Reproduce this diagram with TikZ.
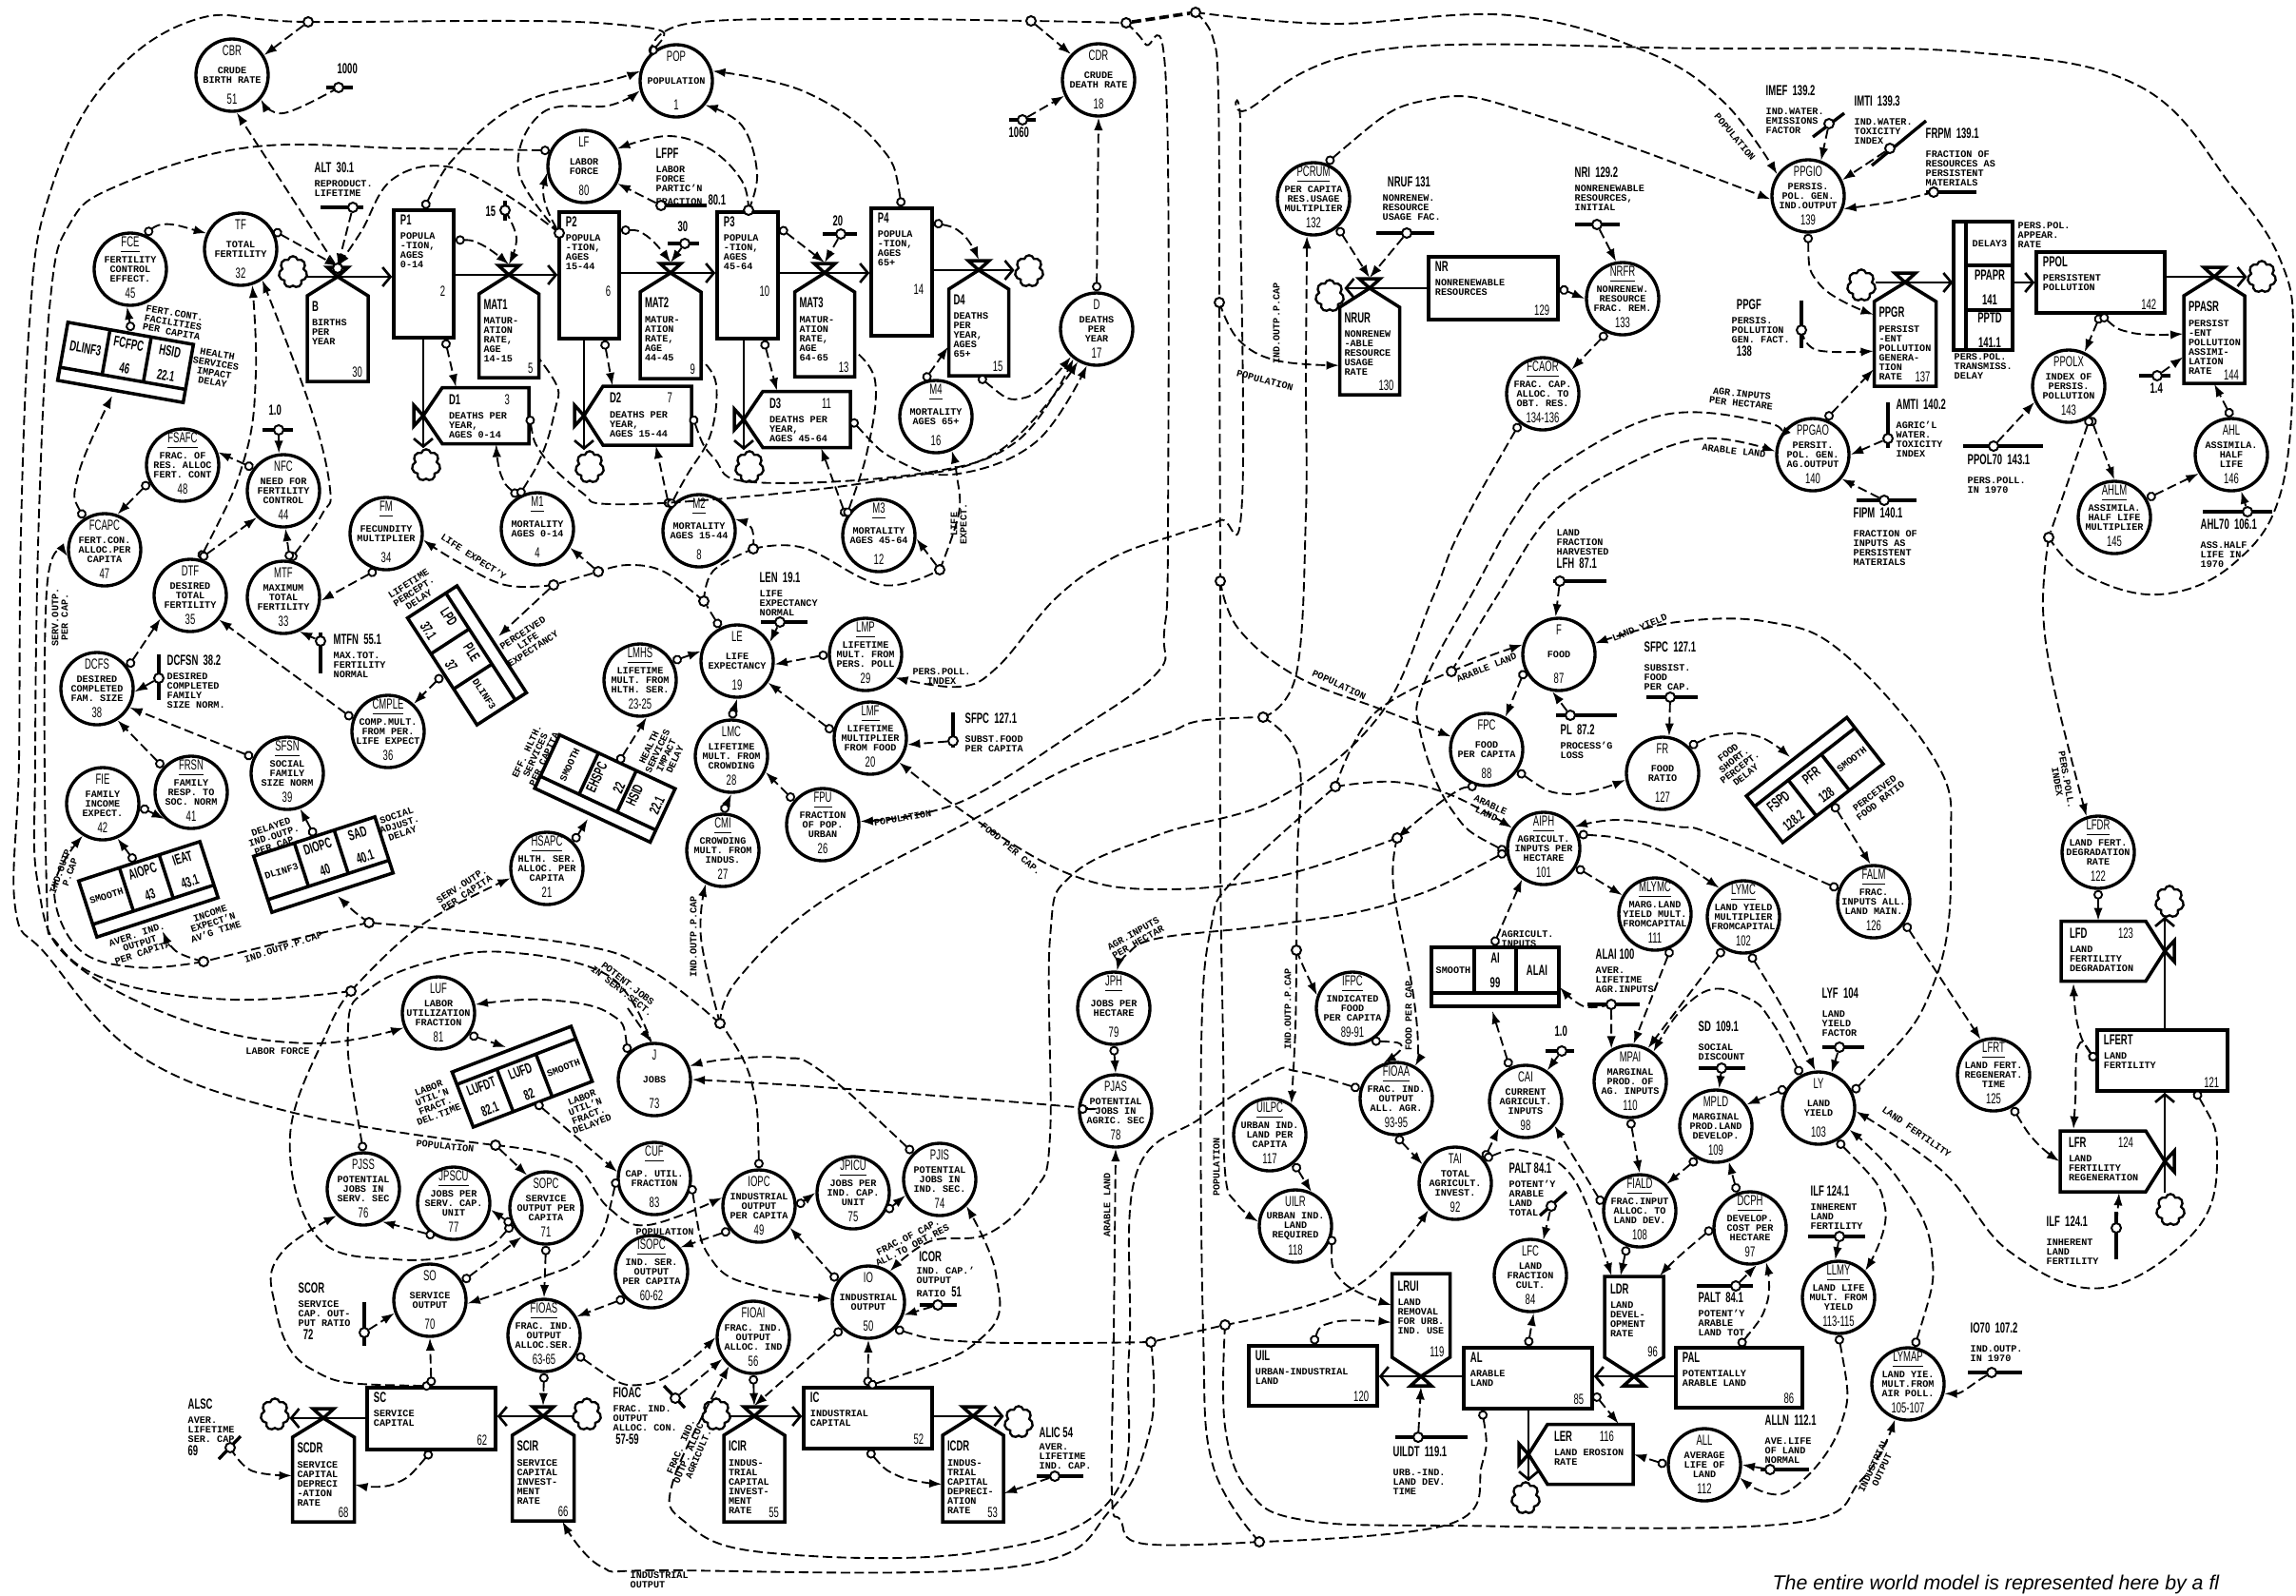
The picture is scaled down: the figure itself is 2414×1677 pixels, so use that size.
\documentclass[tikz,border=0pt]{standalone}
\usepackage{fontspec}
\setmainfont{Liberation Mono}
\newfontfamily\nmf[FakeStretch=0.62]{Liberation Sans}
\newfontfamily\capf{Liberation Sans}
\usetikzlibrary{arrows.meta,shapes.symbols,calc}
\pgfdeclarelayer{fg}\pgfsetlayers{main,fg}
\newcommand\nm[1]{{\nmf\fontsize{4.6}{4.6}\selectfont #1}}
\newcommand\lb{\fontsize{3.05}{3}\selectfont\bfseries}
\tikzset{
 auxc/.style={circle,draw,line width=1pt,minimum size=22.8pt,inner sep=0pt},
 auxn/.style={inner sep=0pt,align=center,font=\nmf\fontsize{4.6}{4.6}\selectfont},
 auxt/.style={inner sep=0pt,align=center,font=\lb},
 lev/.style={rectangle,draw,line width=1.05pt,inner sep=0pt},
 inv/.style={rectangle,inner sep=0pt},
 ht/.style={inner sep=0pt,align=left,font=\lb},
 num/.style={inner sep=0pt,font=\nmf\fontsize{4.6}{4.6}\selectfont},
 box/.style={line width=1.05pt,line join=miter},
 tap/.style={circle,draw,fill=white,line width=.6pt,minimum size=3pt,inner sep=0pt},
 bar/.style={line width=1pt},
 cld/.style={cloud,draw,cloud puffs=7,aspect=1,minimum width=9pt,minimum height=10pt,inner sep=0pt,line width=.7pt},
 dl/.style={dashed,line width=.56pt,dash pattern=on 3pt off 1.4pt},
 cn/.style={dl,{Circle[fill=white,length=3pt]}-{Latex[length=4pt,width=2.8pt]}},
 ar/.style={dl,-{Latex[length=4pt,width=2.8pt]}},
 tl/.style={dl,{Circle[fill=white,length=3pt]}-},
 flow/.style={line width=.8pt,-{Straight Barb[length=2.5pt,width=6pt]}},
 lab/.style={inner sep=0pt,align=left,anchor=north west,font=\lb},
 rlab/.style={inner sep=0pt,align=center,font=\lb},
}
\newcounter{tc}
\newcommand\vc[6]{\node[auxc,
 label={[auxn,name=#1n,yshift=7.6pt]center:{#4}},
 label={[auxt,name=#1t]center:{#5}},
 label={[auxn,name=#1m,yshift=-7.6pt]center:{#6}}] (#1) at (#2,#3) {};}
\newcommand\lev[9][-5]{\node[lev,minimum width={(#5-#3)*.3pt},minimum height={(#6-#4)*.3pt}] (#2) at ({(#3+#5)/2},{(#4+#6)/2}) {};
 \node[ht,anchor=north west] (#2x) at ($(#2.north west)+(8,6)$) {\nm{#7}\\[1.6pt]#8};
 \node[num,anchor=south east] (#2m) at ($(#2.south east)+(-10,#1)$) {#9};}
\newcommand\hsh[5]{\begin{scope}[shift={(#1,#2)},rotate=#3]
 \draw[box] ({-#4/2},20) -- (0,0) -- ({#4/2},20) -- ({#4/2},#5) -- ({-#4/2},#5) -- cycle;
 \draw[box] (-11,-10) -- (11,-10) -- (0,0) -- cycle;
 \end{scope}}
\newcommand\hU[8]{\hsh{#2}{#3}{0}{#4}{#5}\coordinate (#1v) at (#2,#3);\coordinate (#1t) at ({#2},{#3-11});
 \node[inv,minimum width={#4*.3pt},minimum height={#5*.3pt}] (#1) at ({#2},{#3+#5/2}) {};
 \node[ht,anchor=north west] (#1x) at ($(#1.north west)+(5,26)$) {\nm{#6}\\[1.6pt]#7};
 \node[num,anchor=south east] (#1m) at ($(#1.south east)+(-6,-4)$) {#8};}
\newcommand\hD[8]{\hsh{#2}{#3}{180}{#4}{#5}\coordinate (#1v) at (#2,#3);\coordinate (#1t) at ({#2},{#3+11});
 \node[inv,minimum width={#4*.3pt},minimum height={#5*.3pt}] (#1) at ({#2},{#3-#5/2}) {};
 \node[ht,anchor=north west] (#1x) at ($(#1.north west)+(6,8)$) {\nm{#6}\\[1.6pt]#7};
 \node[num,anchor=south east] (#1m) at ($(#1.south east)+(-6,-20)$) {#8};}
\newcommand\hL[8]{\hsh{#2}{#3}{90}{#4}{#5}\coordinate (#1v) at (#2,#3);\coordinate (#1t) at ({#2-11},{#3});
 \node[inv,minimum width={#5*.3pt},minimum height={#4*.3pt}] (#1) at ({#2+#5/2},{#3}) {};
 \node[ht,anchor=north west] (#1x) at ($(#1.north west)+(27,7)$) {\nm{#6}\\[1.6pt]#7};
 \node[num,anchor=north east] (#1m) at ($(#1.north east)+(-20,7)$) {#8};}
\newcommand\hR[8]{\hsh{#2}{#3}{-90}{#4}{#5}\coordinate (#1v) at (#2,#3);\coordinate (#1t) at ({#2+11},{#3});
 \node[inv,minimum width={#5*.3pt},minimum height={#4*.3pt}] (#1) at ({#2-#5/2},{#3}) {};
 \node[ht,anchor=north west] (#1x) at ($(#1.north west)+(9,7)$) {\nm{#6}\\[1.6pt]#7};
 \node[num,anchor=north east] (#1m) at ($(#1.north east)+(-33,7)$) {#8};}
\newcommand\cc[2]{\nm{#1}\\[3.5pt]\nm{#2}}
\newcommand\blk[9]{\begin{scope}[shift={(#2,#3)},rotate=#4]
 \draw[box] (-67,-31) rectangle (67,31);
 \draw[box] (-67,{#5*17}) -- (67,{#5*17});
 \draw[box] (-22,{-#5*31}) -- (-22,{#5*17});
 \draw[box] (22,{-#5*31}) -- (22,{#5*17});
 \node[rlab,rotate={#4+#9}] (#1a) at (-44,{-#5*7}) {#6};
 \node[rlab,rotate={#4+#9}] (#1b) at (0,{-#5*7}) {#7};
 \node[rlab,rotate={#4+#9}] (#1c) at (44,{-#5*7}) {#8};
 \end{scope}}
\newcommand\tapn[3]{\begin{pgfonlayer}{fg}\node[tap] (#1) at (#2,#3) {};\end{pgfonlayer}}
\newcommand\chb[5]{\draw[bar] (#4,#3) -- (#5,#3);\tapn{#1}{#2}{#3}}
\newcommand\cvb[5]{\draw[bar] (#2,#4) -- (#2,#5);\tapn{#1}{#2}{#3}}
\newcommand\csl[7]{\draw[bar] (#4,#5) -- (#6,#7);\tapn{#1}{#2}{#3}}
\newcommand\tx[3]{\stepcounter{tc}\node[lab] (tx\arabic{tc}) at (#1,#2) {#3};}
\newcommand\trx[4]{\stepcounter{tc}\node[rlab,rotate=#3] (tx\arabic{tc}) at (#1,#2) {#4};}
\newcommand\cv[2]{\draw[#1] plot[smooth,tension=.65] coordinates {#2};}
\newcommand\un[1]{\underline{#1}}
\begin{document}
\begin{tikzpicture}[x=0.3pt,y=-0.3pt]
\useasboundingbox (0,0) rectangle (2414,1677);
% ---------- circles
\vc{CBR}{244}{79}{CBR}{CRUDE\\BIRTH RATE}{51}
\vc{TF}{253}{262}{TF}{TOTAL\\FERTILITY}{32}
\vc{FCE}{137}{283}{\un{FCE}}{FERTILITY\\CONTROL\\EFFECT.}{45}
\vc{POP}{711}{85}{POP}{POPULATION}{1}
\vc{CDR}{1155}{84}{CDR}{CRUDE\\DEATH RATE}{18}
\vc{D}{1153}{346}{D}{DEATHS\\PER\\YEAR}{17}
\vc{LF}{614}{175}{LF}{LABOR\\FORCE}{80}
\vc{FCAPC}{110}{578}{FCAPC}{FERT.CON.\\ALLOC.PER\\CAPITA}{47}
\vc{FSAFC}{192}{489}{\un{FSAFC}}{FRAC. OF\\RES. ALLOC\\FERT. CONT}{48}
\vc{NFC}{298}{516}{NFC}{NEED FOR\\FERTILITY\\CONTROL}{44}
\vc{FM}{406}{561}{\un{FM}}{FECUNDITY\\MULTIPLIER}{34}
\vc{M1}{565}{556}{\un{M1}}{MORTALITY\\AGES 0-14}{4}
\vc{M2}{735}{558}{\un{M2}}{MORTALITY\\AGES 15-44}{8}
\vc{M3}{924}{563}{\un{M3}}{MORTALITY\\AGES 45-64}{12}
\vc{M4}{984}{438}{\un{M4}}{MORTALITY\\AGES 65+}{16}
\vc{DTF}{200}{626}{DTF}{DESIRED\\TOTAL\\FERTILITY}{35}
\vc{MTF}{298}{628}{MTF}{MAXIMUM\\TOTAL\\FERTILITY}{33}
\vc{DCFS}{102}{724}{DCFS}{DESIRED\\COMPLETED\\FAM. SIZE}{38}
\vc{FIE}{108}{845}{FIE}{FAMILY\\INCOME\\EXPECT.}{42}
\vc{FRSN}{201}{833}{\un{FRSN}}{FAMILY\\RESP. TO\\SOC. NORM}{41}
\vc{SFSN}{302}{813}{\un{SFSN}}{SOCIAL\\FAMILY\\SIZE NORM}{39}
\vc{CMPLE}{408}{769}{\un{CMPLE}}{COMP.MULT.\\FROM PER.\\LIFE EXPECT}{36}
\vc{HSAPC}{575}{913}{\un{HSAPC}}{HLTH. SER.\\ALLOC. PER\\CAPITA}{21}
\vc{LE}{775}{695}{LE}{LIFE\\EXPECTANCY}{19}
\vc{LMHS}{673}{715}{\un{LMHS}}{LIFETIME\\MULT. FROM\\HLTH. SER.}{23-25}
\vc{LMP}{910}{688}{\un{LMP}}{LIFETIME\\MULT. FROM\\PERS. POLL}{29}
\vc{LMF}{915}{776}{\un{LMF}}{LIFETIME\\MULTIPLIER\\FROM FOOD}{20}
\vc{LMC}{769}{795}{LMC}{LIFETIME\\MULT. FROM\\CROWDING}{28}
\vc{CMI}{760}{894}{\un{CMI}}{CROWDING\\MULT. FROM\\INDUS.}{27}
\vc{FPU}{865}{867}{\un{FPU}}{FRACTION\\OF POP.\\URBAN}{26}
\vc{JPH}{1171}{1060}{\un{JPH}}{JOBS PER\\HECTARE}{79}
\vc{LUF}{461}{1065}{LUF}{LABOR\\UTILIZATION\\FRACTION}{81}
\vc{J}{688}{1135}{J}{JOBS}{73}
\vc{PJSS}{382}{1250}{PJSS}{POTENTIAL\\JOBS IN\\SERV. SEC}{76}
\vc{JPSCU}{477}{1265}{\un{JPSCU}}{JOBS PER\\SERV. CAP.\\UNIT}{77}
\vc{SOPC}{574}{1270}{SOPC}{SERVICE\\OUTPUT PER\\CAPITA}{71}
\vc{CUF}{688}{1239}{\un{CUF}}{CAP. UTIL.\\FRACTION}{83}
\vc{SO}{452}{1367}{SO}{SERVICE\\OUTPUT}{70}
\vc{ISOPC}{685}{1337}{\un{ISOPC}}{IND. SER.\\OUTPUT\\PER CAPITA}{60-62}
\vc{FIOAS}{572}{1404}{\un{FIOAS}}{FRAC. IND.\\OUTPUT\\ALLOC.SER.}{63-65}
\vc{IOPC}{798}{1268}{IOPC}{INDUSTRIAL\\OUTPUT\\PER CAPITA}{49}
\vc{JPICU}{897}{1254}{\un{JPICU}}{JOBS PER\\IND. CAP.\\UNIT}{75}
\vc{PJIS}{988}{1240}{PJIS}{POTENTIAL\\JOBS IN\\IND. SEC.}{74}
\vc{IO}{913}{1369}{IO}{INDUSTRIAL\\OUTPUT}{50}
\vc{FIOAI}{792}{1406}{FIOAI}{FRAC. IND.\\OUTPUT\\ALLOC. IND}{56}
\vc{PJAS}{1173}{1168}{PJAS}{POTENTIAL\\JOBS IN\\AGRIC. SEC}{78}
\vc{UILPC}{1335}{1193}{\un{UILPC}}{URBAN IND.\\LAND PER\\CAPITA}{117}
\vc{UILR}{1362}{1289}{UILR}{URBAN IND.\\LAND\\REQUIRED}{118}
\vc{FIOAA}{1468}{1155}{\un{FIOAA}}{FRAC. IND.\\OUTPUT\\ALL. AGR.}{93-95}
\vc{CAI}{1604}{1158}{CAI}{CURRENT\\AGRICULT.\\INPUTS}{98}
\vc{MPAI}{1714}{1137}{MPAI}{MARGINAL\\PROD. OF\\AG. INPUTS}{110}
\vc{MPLD}{1804}{1184}{MPLD}{MARGINAL\\PROD.LAND\\DEVELOP.}{109}
\vc{TAI}{1530}{1244}{TAI}{TOTAL\\AGRICULT.\\INVEST.}{92}
\vc{FIALD}{1724}{1273}{\un{FIALD}}{FRAC.INPUT\\ALLOC. TO\\LAND DEV.}{108}
\vc{DCPH}{1840}{1291}{\un{DCPH}}{DEVELOP.\\COST PER\\HECTARE}{97}
\vc{LFC}{1609}{1341}{LFC}{LAND\\FRACTION\\CULT.}{84}
\vc{LY}{1912}{1165}{LY}{LAND\\YIELD}{103}
\vc{ALL}{1792}{1540}{ALL}{AVERAGE\\LIFE OF\\LAND}{112}
\vc{LLMY}{1933}{1364}{\un{LLMY}}{LAND LIFE\\MULT. FROM\\YIELD}{113-115}
\vc{LYMAP}{2006}{1455}{\un{LYMAP}}{LAND YIE.\\MULT.FROM\\AIR POLL.}{105-107}
\vc{LFRT}{2096}{1130}{\un{LFRT}}{LAND FERT.\\REGENERAT.\\TIME}{125}
\vc{LFDR}{2206}{896}{\un{LFDR}}{LAND FERT.\\DEGRADATION\\RATE}{122}
\vc{FALM}{1970}{948}{\un{FALM}}{FRAC.\\INPUTS ALL.\\LAND MAIN.}{126}
\vc{LYMC}{1833}{964}{\un{LYMC}}{LAND YIELD\\MULTIPLIER\\FROMCAPITAL}{102}
\vc{F}{1639}{688}{F}{FOOD}{87}
\vc{FPC}{1563}{788}{FPC}{FOOD\\PER CAPITA}{88}
\vc{FR}{1748}{813}{FR}{FOOD\\RATIO}{127}
\vc{AIPH}{1623}{892}{\un{AIPH}}{AGRICULT.\\INPUTS PER\\HECTARE}{101}
\vc{MLYMC}{1740}{961}{\un{MLYMC}}{MARG.LAND\\YIELD MULT.\\FROMCAPITAL}{111}
\vc{IFPC}{1422}{1060}{\un{IFPC}}{INDICATED\\FOOD\\PER CAPITA}{89-91}
\vc{PCRUM}{1381}{209}{\un{PCRUM}}{PER CAPITA\\RES.USAGE\\MULTIPLIER}{132}
\vc{NRFR}{1706}{314}{\un{NRFR}}{NONRENEW.\\RESOURCE\\FRAC. REM.}{133}
\vc{FCAOR}{1622}{414}{\un{FCAOR}}{FRAC. CAP.\\ALLOC. TO\\OBT. RES.}{134-136}
\vc{PPGIO}{1901}{206}{PPGIO}{PERSIS.\\POL. GEN.\\IND.OUTPUT}{139}
\vc{PPGAO}{1906}{478}{PPGAO}{PERSIT.\\POL. GEN.\\AG.OUTPUT}{140}
\vc{PPOLX}{2175}{406}{PPOLX}{INDEX OF\\PERSIS.\\POLLUTION}{143}
\vc{AHLM}{2223}{544}{\un{AHLM}}{ASSIMILA.\\HALF LIFE\\MULTIPLIER}{145}
\vc{AHL}{2346}{478}{AHL}{ASSIMILA.\\HALF\\LIFE}{146}
% ---------- levels
\lev[-45]{P1}{414}{221}{477}{355}{P1}{POPULA\\-TION,\\AGES\\0-14}{2}
\lev[-45]{P2}{588}{223}{651}{356}{P2}{POPULA\\-TION,\\AGES\\15-44}{6}
\lev[-45]{P3}{754}{223}{818}{356}{P3}{POPULA\\-TION,\\AGES\\45-64}{10}
\lev[-45]{P4}{916}{219}{980}{353}{P4}{POPULA\\-TION,\\AGES\\65+}{14}
\lev{SC}{386}{1459}{521}{1524}{SC}{SERVICE\\CAPITAL}{62}
\lev{IC}{845}{1459}{980}{1523}{IC}{INDUSTRIAL\\CAPITAL}{52}
\lev{UIL}{1313}{1415}{1448}{1478}{UIL}{URBAN-INDUSTRIAL\\LAND}{120}
\lev{AL}{1539}{1417}{1674}{1481}{AL}{ARABLE\\LAND}{85}
\lev{PAL}{1762}{1417}{1895}{1480}{PAL}{POTENTIALLY\\ARABLE LAND}{86}
\lev{LFERT}{2205}{1083}{2342}{1147}{LFERT}{LAND\\FERTILITY}{121}
\lev{NR}{1502}{270}{1638}{336}{NR}{NONRENEWABLE\\RESOURCES}{129}
\lev{PPOL}{2141}{265}{2276}{329}{PPOL}{PERSISTENT\\POLLUTION}{142}
% ---------- rates
\hU{B}{355}{291}{64}{110}{B}{BIRTHS\\PER\\YEAR}{30}
\hU{MAT1}{535}{289}{63}{108}{MAT1}{MATUR-\\ATION\\RATE,\\AGE\\14-15}{5}
\hU{MAT2}{705}{287}{64}{111}{MAT2}{MATUR-\\ATION\\RATE,\\AGE\\44-45}{9}
\hU{MAT3}{867}{287}{63}{109}{MAT3}{MATUR-\\ATION\\RATE,\\AGE\\64-65}{13}
\hU{Dfour}{1029}{284}{63}{111}{D4}{DEATHS\\PER\\YEAR,\\AGES\\65+}{15}
\hL{Done}{445}{437}{59}{111}{D1}{DEATHS PER\\YEAR,\\AGES 0-14}{3}
\hL{Dtwo}{614}{437}{62}{113}{D2}{DEATHS PER\\YEAR,\\AGES 15-44}{7}
\hL{Dthree}{782}{441}{59}{112}{D3}{DEATHS PER\\YEAR,\\AGES 45-64}{11}
\hU{SCDR}{340}{1491}{65}{109}{SCDR}{SERVICE\\CAPITAL\\DEPRECI\\-ATION\\RATE}{68}
\hU{SCIR}{571}{1489}{65}{110}{SCIR}{SERVICE\\CAPITAL\\INVEST-\\MENT\\RATE}{66}
\hU{ICIR}{793}{1489}{64}{111}{ICIR}{INDUS-\\TRIAL\\CAPITAL\\INVEST-\\MENT\\RATE}{55}
\hU{ICDR}{1023}{1489}{64}{111}{ICDR}{INDUS-\\TRIAL\\CAPITAL\\DEPRECI-\\ATION\\RATE}{53}
\hU{NRUR}{1440}{303}{63}{112}{NRUR}{NONRENEW\\-ABLE\\RESOURCE\\USAGE\\RATE}{130}
\hU{PPGR}{2003}{297}{65}{109}{PPGR}{PERSIST\\-ENT\\POLLUTION\\GENERA-\\TION\\RATE}{137}
\hU{PPASR}{2328}{291}{64}{112}{PPASR}{PERSIST\\-ENT\\POLLUTION\\ASSIMI-\\LATION\\RATE}{144}
\hD{LRUI}{1494}{1447}{61}{108}{LRUI}{LAND\\REMOVAL\\FOR URB.\\IND. USE}{119}
\hD{LDR}{1718}{1447}{62}{105}{LDR}{LAND\\DEVEL-\\OPMENT\\RATE}{96}
\hL{LER}{1607}{1529}{63}{110}{LER}{LAND EROSION\\RATE}{116}
\hR{LFR}{2276}{1221}{64}{110}{LFR}{LAND\\FERTILITY\\REGENERATION}{124}
\hR{LFD}{2276}{1000}{63}{109}{LFD}{LAND\\FERTILITY\\DEGRADATION}{123}
% ---------- delay tables
\blk{HS}{132}{381}{-10}{1}{\nm{DLINF3}}{\cc{FCFPC}{46}}{\cc{HSID}{22.1}}{0}
\blk{PB}{491}{689}{-57}{-1}{\cc{LPD}{37.1}}{\cc{PLE}{37}}{DLINF3}{0}
\blk{AB}{156}{935}{18}{1}{SMOOTH}{\cc{AIOPC}{43}}{\cc{IEAT}{43.1}}{0}
\blk{DB}{340}{909}{18}{1}{DLINF3}{\cc{DIOPC}{40}}{\cc{SAD}{40.1}}{0}
\blk{EB}{636}{829}{-25}{1}{SMOOTH}{\cc{EHSPC}{22}}{\cc{HSID}{22.1}}{90}
\blk{UB}{549}{1132}{21}{-1}{\cc{LUFDT}{82.1}}{\cc{LUFD}{82}}{SMOOTH}{0}
\blk{IB}{1572}{1027}{0}{1}{SMOOTH}{\cc{AI}{99}}{\nm{ALAI}}{0}
\blk{FB}{1908}{820}{38}{-1}{\cc{FSPD}{128.2}}{\cc{PFR}{128}}{SMOOTH}{0}
\node[inv,minimum width=18.6pt,minimum height=40.5pt] (PPDL) at (2085,300.5) {};
\draw[box] (2054,233) rectangle (2116,368);
\draw[box] (2067,233) -- (2067,368) (2067,279) -- (2116,279) (2067,326) -- (2116,326);
\node[rlab] (PPDLa) at (2092,256) {DELAY3};
\node[rlab] (PPDLb) at (2092,302) {\cc{PPAPR}{141}};
\node[rlab] (PPDLc) at (2092,347) {\cc{PPTD}{141.1}};
% ---------- clouds
\node[cld] (cB) at (308,286) {};
\node[cld] (cD1) at (448,489) {};
\node[cld] (cD2) at (620,491) {};
\node[cld] (cD3) at (788,491) {};
\node[cld] (cD4) at (1082,285) {};
\node[cld] (cSDR) at (289,1487) {};
\node[cld] (cSIR) at (617,1487) {};
\node[cld] (cICI) at (753,1487) {};
\node[cld] (cICD) at (1071,1495) {};
\node[cld] (cNR) at (1398,311) {};
\node[cld] (cPG) at (1957,300) {};
\node[cld] (cPA) at (2378,291) {};
\node[cld] (cLER) at (1604,1575) {};
\node[cld] (cLFR) at (2282,1272) {};
\node[cld] (cLFD) at (2281,948) {};
% ---------- flows
\draw[flow] (cB.east|-Bv) -- (P1.west|-Bv);
\draw[flow] (P1.east|-MAT1v) -- (P2.west|-MAT1v);
\draw[flow] (P2.east|-MAT2v) -- (P3.west|-MAT2v);
\draw[flow] (P3.east|-MAT3v) -- (P4.west|-MAT3v);
\draw[flow] (P4.east|-Dfourv) -- (cD4.west|-Dfourv);
\draw[flow] (Donev|-P1.south) -- (Donev|-cD1.north);
\draw[flow] (Dtwov|-P2.south) -- (Dtwov|-cD2.north);
\draw[flow] (Dthreev|-P3.south) -- (Dthreev|-cD3.north);
\draw[flow] (cSIR.west|-SCIRv) -- (SC.east|-SCIRv);
\draw[flow] (SC.west|-SCDRv) -- (cSDR.east|-SCDRv);
\draw[flow] (cICI.east|-ICIRv) -- (IC.west|-ICIRv);
\draw[flow] (IC.east|-ICDRv) -- (cICD.west|-ICDRv);
\draw[flow] (NR.west|-NRURv) -- (cNR.east|-NRURv);
\draw[flow] (cPG.east|-PPGRv) -- (PPDL.west|-PPGRv);
\draw[flow] (PPDL.east|-PPGRv) -- (PPOL.west|-PPGRv);
\draw[flow] (PPOL.east|-PPASRv) -- (cPA.west|-PPASRv);
\draw[flow] (AL.west|-LRUIv) -- (UIL.east|-LRUIv);
\draw[flow] (PAL.west|-LDRv) -- (AL.east|-LDRv);
\draw[flow] (LERv|-AL.south) -- (LERv|-cLER.north);
\draw[flow] (LFDv|-LFERT.north) -- (LFDv|-cLFD.south);
\draw[flow] (LFRv|-cLFR.north) -- (LFRv|-LFERT.south);
% ---------- constants
\chb{kB}{356}{92}{343}{371}
\chb{kALT}{371}{218}{337}{382}
\cvb{k15}{531}{221}{211}{232}
\chb{k30}{720}{256}{702}{735}
\chb{k20}{884}{246}{865}{901}
\chb{kLFPF}{695}{216}{692}{743}
\chb{k1060}{1075}{126}{1061}{1089}
\chb{kOne}{293}{452}{276}{308}
\cvb{kDCFSN}{167}{713}{688}{736}
\cvb{kMTFN}{337}{674}{665}{708}
\chb{kLEN}{820}{654}{800}{849}
\cvb{kSFPC}{1002}{779}{749}{786}
\csl{kALSC}{242}{1522}{230}{1534}{253}{1510}
\cvb{kSCOR}{383}{1401}{1369}{1415}
\csl{kFIOAC}{710}{1470}{698}{1457}{720}{1480}
\chb{kALIC}{1109}{1552}{1090}{1139}
\chb{kICOR}{986}{1372}{967}{1006}
\chb{kUILDT}{1491}{1511}{1467}{1543}
\csl{kPALTa}{1631}{1268}{1619}{1278}{1647}{1253}
\chb{kPALTb}{1825}{1352}{1784}{1843}
\chb{kCAI}{1642}{1105}{1625}{1655}
\chb{kSD}{1810}{1123}{1786}{1835}
\chb{kALLN}{1861}{1545}{1851}{1902}
\chb{kILFa}{1934}{1300}{1901}{1961}
\cvb{kILFb}{2225}{1291}{1274}{1324}
\chb{kLYF}{1934}{1101}{1916}{1960}
\chb{kIO}{2094}{1443}{2069}{2126}
\chb{kALAI}{1694}{1056}{1669}{1724}
\chb{kLFH}{1640}{611}{1633}{1689}
\chb{kPL}{1651}{752}{1636}{1700}
\chb{kSFPCb}{1756}{733}{1731}{1785}
\chb{kNRUF}{1479}{245}{1447}{1508}
\chb{kNRI}{1679}{236}{1656}{1703}
\csl{kIMEF}{1923}{130}{1906}{144}{1939}{119}
\csl{kIMTI}{1987}{156}{1968}{174}{2025}{127}
\chb{kFRPM}{2033}{202}{2025}{2078}
\cvb{kPPGF}{1894}{347}{316}{366}
\cvb{kAMTI}{1985}{461}{423}{471}
\chb{kFIPM}{1981}{526}{1952}{2015}
\chb{kPPOL}{2096}{469}{2064}{2148}
\chb{kAHL}{2363}{538}{2316}{2389}
\chb{kPP}{2268}{395}{2249}{2282}
% ---------- junctions
\tapn{jT1}{324}{23}\tapn{jT2}{1084}{22}\tapn{jT3}{1184}{24}\tapn{jT4}{1257}{13}
\tapn{jBt}{355}{282}\tapn{jP2}{588}{245}\tapn{jP3}{787}{221}
\tapn{jR1}{1282}{318}\tapn{jR2}{1283}{611}\tapn{jPS}{521}{1204}
\tapn{jIO1}{214}{1011}\tapn{jIO2}{388}{970}\tapn{jIO3}{757}{1076}
\tapn{jUP}{1328}{754}\tapn{jIF}{1363}{999}\tapn{jSP}{369}{1042}
\tapn{jPX}{2154}{565}\tapn{jBig}{1324}{1621}\tapn{jAr1}{1404}{827}\tapn{jAr2}{1526}{706}
\tapn{jI1}{1210}{1411}\tapn{jI2}{1288}{1393}\tapn{jLE}{740}{632}\tapn{jLa}{629}{601}
\tapn{jLb}{792}{577}\tapn{jLc}{988}{599}\tapn{jLd}{582}{615}\tapn{jFP}{1469}{881}
% free ends on delay tables
\coordinate (tHS) at (138,348);\coordinate (aHS) at (118,416);
\coordinate (tPB) at (465,710);\coordinate (aPB) at (524,669);
\coordinate (tAB) at (142,906);\coordinate (aAB) at (171,979);
\coordinate (tDB) at (331,879);\coordinate (aDB) at (355,942);
\coordinate (tEB) at (650,802);\coordinate (aEB) at (618,861);
\coordinate (tUB) at (563,1159);\coordinate (aUB) at (532,1101);
\coordinate (tIB) at (1570,994);\coordinate (aIBa) at (1569,1063);\coordinate (aIBb) at (1640,1038);
\coordinate (tFB) at (1927,845);\coordinate (aFB) at (1882,796);
\coordinate (aLFDb) at (2180,1034);\coordinate (aLFRt) at (2180,1187);
\coordinate (tLFB) at (2308,1147);\coordinate (aLFRb) at (2228,1254);
% ---------- population sector connectors
\draw[ar] (jT1) -- (CBR.32);
\cv{ar}{(kB) (298,119) (CBR.-40)}
\draw[cn] (FCE.67) to[out=40,in=165] (TF.155);
\draw[cn] (TF.30) -- (Bt);
\draw[ar] (jBt) -- (CBR.-83);
\draw[ar] (kALT) -- (Bt);
\cv{ar}{(jP2) (531,204) (469,175) (412,189) (380,243) (Bt)}
\cv{cn}{(P1.north) (486,157) (551,107) (640,85) (POP.165)}
\cv{ar}{(jP2) (545,179) (571,118) (640,111) (POP.195)}
\draw[ar] (jP2) to[out=120,in=-105] (LF.190);
\cv{ar}{(jP3) (796,182) (780,132) (POP.-40)}
\cv{ar}{(jP3) (780,190) (747,157) (702,143) (LF.28)}
\cv{cn}{(P4.north) (922,150) (845,96) (POP.15)}
\draw[ar] (kLFPF) -- (LF.-27);
\cv{cn}{(P1.47) (506,257) (MAT1t)}
\cv{ar}{(k15) (543,250) (MAT1t)}
\cv{cn}{(P2.55) (680,248) (MAT2t)}
\draw[ar] (k30) -- (MAT2t);
\draw[cn] (P3.56) -- (MAT3t);
\draw[ar] (k20) -- (MAT3t);
\cv{cn}{(P4.57) (1012,246) (Dfourt)}
\draw[cn] (P1.-72) -- (Done.125);
\draw[cn] (P2.-77) -- (Dtwo.130);
\draw[cn] (P3.-76) -- (Dthree.125);
\cv{cn}{(M1.120) (527,500) (Done.-55)}
\cv{tl}{(M1.120) (571,475) (584,429) (586,407) (MAT1.-47)}
\draw[cn] (M2.142) -- (Dtwo.-59);
\cv{tl}{(M2.142) (722,500) (747,457) (753,404) (MAT2.-48)}
\draw[cn] (M3.150) -- (Dthree.-50);
\cv{tl}{(M3.150) (914,464) (920,400) (MAT3.-41)}
\draw[cn] (M4.108) -- (Dfour.218);
\cv{cn}{(Done.0) (571,479) (612,518) (641,530) (763,524) (927,505) (1049,475) (D.240)}
\cv{cn}{(Dtwo.0) (751,482) (792,507) (967,498) (1069,464) (D.232)}
\cv{cn}{(Dthree.0) (947,486) (1008,498) (1090,464) (D.255)}
\cv{cn}{(Dfour.-90) (1078,418) (D.227)}
\draw[cn] (D.90) -- (CDR.-90);
\draw[ar] (k1060) -- (CDR.205);
\draw[ar] (jT2) -- (CDR.137);
% main population trunks
\cv{tl}{(POP.134) (641,25) (jT1) (204,21) (106,93) (49,214) (31,339) (22,560) (20,800) (16,954) (49,1004) (150,1112) (313,1171) (jPS)}
\cv{dl}{(POP.134) (722,25) (900,20) (jT2) (jT3)}
\draw[dl,line width=1.1pt] (jT3) -- (jT4);
\cv{ar}{(jPS) (599,1221) (640,1270) (681,1288) (IOPC.167)}
\draw[ar] (jPS) -- (SOPC.120);
\cv{cn}{(LF.155) (430,156) (261,155) (122,196) (73,236) (53,314) (41,540) (37,800) (40,930) (75,1010) (200,1075) (327,1097) (LUF.203)}
\cv{ar}{(jT4) (1400,25) (1587,16) (1730,54) (1812,107) (PPGIO.145)}
\cv{dl}{(jT4) (1275,39) (1281,100) (jR1)}
\draw[dl] (jR1) -- (jR2);
\cv{ar}{(jR2) (1283,900) (1286,1100) (1288,1232) (1300,1265) (UILR.173)}
\cv{ar}{(jR1) (1302,357) (1342,379) (NRUR.218)}
\cv{ar}{(jR2) (1302,661) (1363,711) (1450,745) (FPC.160)}
\cv{ar}{(jT3) (1204,46) (1226,89) (1228,560) (1224,665) (1216,708) (1131,769) (1008,844) (FPU.5)}
% fertility
\cv{cn}{(DTF.75) (257,482) (269,393) (TF.-72)}
\cv{cn}{(MTF.80) (339,540) (347,514) (327,430) (TF.-55)}
\draw[cn] (DTF.75) -- (NFC.225);
\draw[cn] (MTF.80) -- (NFC.-87);
\draw[cn] (FM.255) -- (MTF.-5);
\draw[ar] (kMTFN) -- (MTF.-65);
\draw[ar] (kOne) -- (NFC.97);
\draw[cn] (NFC.143) -- (FSAFC.20);
\draw[cn] (FSAFC.207) -- (FCAPC.70);
\cv{cn}{(FCAPC.123) (82,500) (aHS)}
\draw[cn] (tHS) -- (FCE.-95);
\draw[cn] (DCFS.35) -- (DTF.218);
\draw[ar] (kDCFSN) -- (DCFS.-5);
\draw[cn] (SFSN.155) -- (DCFS.-30);
\draw[cn] (FRSN.138) -- (DCFS.-57);
\draw[cn] (FIE.-5) -- (FRSN.225);
\draw[cn] (tAB) -- (FIE.-67);
\draw[cn] (tDB) -- (SFSN.-70);
\draw[cn] (CMPLE.160) -- (DTF.-40);
\draw[cn] (tPB) -- (CMPLE.47);
% life expectancy
\draw[tl] (LE.117) -- (jLE);
\cv{dl}{(jLE) (698,601) (660,594) (jLa)}
\cv{dl}{(jLE) (750,600) (jLb)}
\cv{dl}{(jLb) (845,576) (927,615) (jLc)}
\draw[ar] (jLa) -- (M1.-30);
\draw[dl] (jLa) -- (jLd);
\cv{ar}{(jLd) (531,615) (480,590) (FM.-10)}
\draw[ar] (jLd) -- (aPB);
\cv{ar}{(jLb) (790,555) (M2.18)}
\draw[ar] (jLc) -- (M3.-5);
\cv{ar}{(jLc) (1008,540) (1006,500) (M4.-65)}
\draw[cn] (LMHS.30) -- (LE.165);
\draw[cn] (LMP.180) -- (LE.-5);
\draw[cn] (LMF.170) -- (LE.-35);
\draw[cn] (LMC.90) -- (LE.-90);
\draw[cn] (CMI.90) -- (LMC.-90);
\draw[cn] (FPU.140) -- (LMC.-25);
\draw[ar] (kLEN) -- (LE.30);
\draw[ar] (kSFPC) -- (LMF.-10);
\draw[cn] (tEB) -- (LMHS.-80);
\draw[cn] (HSAPC.45) -- (aEB);
\cv{ar}{(jPX) (2192,604) (2270,625) (2348,593) (2399,514) (2411,356) (2399,277) (2348,198) (2250,91) (2074,55) (1800,51) (1453,52) (1314,114) (1304,143) (1306,525) (1283,547) (1240,561) (1171,586) (1110,629) (1049,701) (1008,722) (LMP.-38)}
% industrial output per capita trunks
\cv{tl}{(IOPC.north) (790,1137) (761,1080) (jIO3)}
\cv{dl}{(jIO3) (682,1019) (600,992) (jIO2)}
\cv{dl}{(jIO2) (320,985) (jIO1)}
\cv{ar}{(jIO1) (143,1017) (82,997) (57,933) (FIE.238)}
\cv{ar}{(jIO1) (185,1000) (aAB)}
\cv{ar}{(jIO2) (372,958) (aDB)}
\cv{ar}{(jIO3) (737,986) (CMI.243)}
\cv{dl}{(jIO3) (776,1029) (865,947) (1024,861) (1131,804) (1224,772) (1261,758) (jUP)}
\cv{ar}{(jUP) (1363,708) (1373,540) (1373,400) (PCRUM.-100)}
\cv{dl}{(jUP) (1365,797) (1364,900) (jIF)}
\cv{ar}{(jIF) (1372,1020) (IFPC.160)}
\cv{ar}{(jIF) (1362,1080) (UILPC.55)}
% service sector
\cv{tl}{(SOPC.206) (497,1316) (415,1324) (334,1301) (305,1194) (346,1080) (jSP)}
\cv{ar}{(jSP) (441,974) (HSAPC.195)}
\cv{ar}{(jSP) (245,1051) (122,1033) (61,993) (49,933) (49,622) (FCAPC.190)}
\cv{tl}{(PJSS.north) (366,1080) (388,1040) (449,1012) (531,1001) (640,1026) (J.95)}
\draw[ar] (660,1060) -- (J.95);
\cv{cn}{(J.135) (640,1065) (571,1051) (LUF.13)}
\cv{cn}{(PJIS.135) (863,1126) (822,1112) (761,1114) (J.21)}
\cv{cn}{(PJAS.177) (1108,1162) (865,1143) (J.0)}
\draw[cn] (LUF.-35) -- (aUB);
\draw[cn] (tUB) -- (CUF.170);
\cv{cn}{(SC.north) (325,1438) (287,1362) (297,1316) (PJSS.225)}
\draw[cn] (JPSCU.240) -- (PJSS.-60);
\draw[cn] (SOPC.206) -- (JPSCU.-10);
\draw[cn] (SO.30) -- (SOPC.230);
\cv{cn}{(CUF.180) (619,1316) (558,1347) (SO.-5)}
\cv{cn}{(CUF.-10) (750,1327) (802,1354) (IO.175)}
\draw[cn] (SOPC.-90) -- (FIOAS.90);
\draw[cn] (ISOPC.225) -- (FIOAS.30);
\draw[cn] (IOPC.220) -- (ISOPC.40);
\cv{cn}{(FIOAS.-30) (681,1455) (FIOAI.180)}
\draw[cn] (FIOAS.-90) -- (SCIRt);
\draw[cn] (SC.north) -- (SO.-90);
\draw[ar] (kSCOR) -- (SO.200);
\cv{cn}{(SC.south) (415,1560) (SCDR.-25)}
\cv{ar}{(kALSC) (264,1546) (SCDR.190)}
% industry
\draw[cn] (IO.145) -- (IOPC.-35);
\draw[cn] (IO.225) -- (ICIRt);
\draw[cn] (IC.north) -- (IO.-90);
\cv{cn}{(IC.north) (1035,1404) (1047,1339) (PJIS.-45)}
\draw[ar] (kICOR) -- (IO.-20);
\draw[cn] (FIOAI.-90) -- (ICIRt);
\draw[ar] (kFIOAC) -- (FIOAI.215);
\draw[cn] (IOPC.0) -- (JPICU.180);
\draw[cn] (JPICU.-30) -- (PJIS.205);
\cv{cn}{(IC.south) (945,1552) (ICDR.206)}
\draw[ar] (kALIC) -- (ICDR.-38);
\draw[cn] (JPH.-90) -- (PJAS.90);
\cv{tl}{(IO.-45) (1027,1411) (jI1)}
\draw[dl] (jI1) -- (jI2);
\cv{ar}{(jI2) (1423,1354) (TAI.225)}
\cv{ar}{(jI1) (1210,1499) (1169,1586) (1067,1647) (700,1651) (632,1647) (SCIR.-70)}
\cv{ar}{(jI2) (1288,1500) (1313,1568) (1370,1598) (1525,1604) (1878,1602) (1957,1556) (LYMAP.-110)}
\cv{cn}{(FIOAA.165) (1362,1126) (1337,1128) (1263,1175) (1194,1236) (1187,1423) (1169,1575) (1027,1632) (802,1632) (720,1600) (708,1556) (FIOAI.230)}
\cv{cn}{(FCAOR.232) (1534,560) (1506,629) (1449,754) (1342,840) (1220,877) (1127,920) (1104,986) (1104,1194) (1088,1251) (1039,1297) (978,1305) (IO.55)}
% arable land
\cv{tl}{(AL.215) (1558,1540) (1525,1602) (jBig)}
\cv{ar}{(jBig) (1202,1623) (1178,1598) (1169,1571) (1171,1400) (PJAS.-90)}
\cv{dl}{(jBig) (1275,1540) (1265,1400) (1263,1100) (1273,976) (1298,924) (jAr1)}
\cv{dl}{(jAr1) (1444,751) (jAr2)}
\cv{ar}{(jAr2) (1565,690) (F.165)}
\cv{ar}{(jAr1) (1465,822) (1526,836) (AIPH.147)}
\cv{ar}{(jAr2) (1575,625) (1632,540) (1710,489) (1791,461) (PPGAO.175)}
% agriculture
\cv{cn}{(AIPH.185) (1526,851) (1493,769) (1497,719) (1550,620) (1595,540) (1640,490) (1750,436) (1860,445) (PPGAO.155)}
\cv{cn}{(AIPH.185) (1465,949) (1342,972) (1220,986) (1185,1003) (JPH.85)}
\draw[ar] (kLFH) -- (F.95);
\draw[ar] (kPL) -- (F.-100);
\draw[cn] (F.205) -- (FPC.60);
\draw[ar] (kSFPCb) -- (FR.80);
\cv{cn}{(FPC.-35) (1649,835) (FR.190)}
\cv{cn}{(FPC.-105) (1522,838) (jFP)}
\cv{ar}{(jFP) (1342,922) (1220,935) (1127,920) (1024,861) (LMF.-40)}
\cv{ar}{(jFP) (1465,933) (1485,1040) (1491,1100) (FIOAA.60)}
\cv{cn}{(IFPC.-60) (1474,1100) (FIOAA.110)}
\draw[cn] (FIOAA.-90) -- (TAI.150);
\draw[cn] (TAI.40) -- (CAI.225);
\cv{cn}{(TAI.40) (1606,1211) (1655,1240) (LDR.114)}
\draw[cn] (CAI.115) -- (aIBa);
\draw[ar] (kCAI) -- (CAI.55);
\cv{ar}{(kALAI) (1665,1058) (aIBb)}
\draw[cn] (tIB) -- (AIPH.235);
\draw[ar] (kALAI) -- (MPAI.120);
\draw[cn] (MLYMC.-65) -- (MPAI.85);
\draw[cn] (LYMC.238) -- (MPAI.62);
\cv{cn}{(LY.118) (1860,1070) (1839,1050) (1800,1040) (1765,1065) (MPAI.52)}
\cv{cn}{(LYMC.-80) (1880,1070) (LY.95)}
\cv{cn}{(AIPH.22) (1710,883) (1751,897) (LYMC.130)}
\cv{cn}{(FALM.160) (1800,877) (1763,869) (1700,862) (AIPH.35)}
\draw[cn] (AIPH.-30) -- (MLYMC.150);
\draw[cn] (tFB) -- (FALM.95);
\cv{cn}{(FR.45) (1812,772) (1851,775) (aFB)}
\draw[cn] (FALM.-35) -- (LFRT.110);
\cv{cn}{(LY.25) (2035,1029) (2051,886) (2035,800) (1937,686) (1860,654) (1763,654) (F.17)}
\draw[cn] (MPAI.-90) -- (FIALD.90);
\draw[cn] (MPLD.-120) -- (FIALD.45);
\draw[cn] (DCPH.110) -- (MPLD.-70);
\draw[cn] (FIALD.170) -- (CAI.-40);
\draw[cn] (FIALD.-110) -- (LDR.105);
\cv{cn}{(DCPH.180) (1762,1324) (LDR.63)}
\draw[ar] (kPALTb) -- (DCPH.-80);
\cv{cn}{(PAL.north) (1858,1369) (DCPH.-65)}
\draw[ar] (kSD) -- (MPLD.85);
\draw[cn] (LY.148) -- (MPLD.35);
\draw[ar] (kLYF) -- (LY.70);
\draw[ar] (kIO) to[out=210,in=0] (LYMAP.-15);
\draw[ar] (kILFa) -- (LLMY.95);
\cv{cn}{(LY.-60) (1982,1270) (LLMY.45)}
\cv{cn}{(LYMAP.80) (2031,1316) (1996,1240) (LY.-35)}
\cv{cn}{(LLMY.-90) (1935,1499) (1878,1569) (ALL.-20)}
\draw[ar] (kALLN) -- (ALL.0);
\draw[cn] (ALL.180) -- (LER.east);
\draw[cn] (AL.-13) -- (LER.39);
\draw[cn] (AL.north) -- (LFC.-85);
\draw[ar] (kPALTa) -- (LFC.70);
\draw[cn] (UILPC.-50) -- (UILR.65);
\cv{cn}{(UILR.-15) (1411,1347) (LRUI.146)}
\cv{cn}{(UIL.north) (1402,1390) (LRUI.175)}
\draw[ar] (kUILDT) -- (LRUIt);
% resources
\cv{cn}{(PCRUM.70) (1506,104) (1628,125) (PPGIO.185)}
\draw[cn] (PCRUM.-50) -- (NRURt);
\draw[ar] (kNRUF) -- (NRURt);
\draw[cn] (NR.east) -- (NRFR.180);
\draw[ar] (kNRI) -- (NRFR.100);
\draw[cn] (NRFR.-115) -- (FCAOR.40);
% pollution
\draw[ar] (kIMEF) -- (PPGIO.70);
\draw[ar] (kIMTI) -- (PPGIO.25);
\cv{ar}{(kFRPM) (1990,212) (PPGIO.-20)}
\cv{cn}{(PPGIO.-90) (1914,300) (PPGR.148)}
\cv{ar}{(kPPGF) (1910,368) (PPGR.208)}
\draw[cn] (PPGAO.70) -- (PPGR.228);
\draw[ar] (kAMTI) -- (PPGAO.0);
\draw[ar] (kFIPM) -- (PPGAO.-40);
\draw[cn] (PPOL.south) -- (PPOLX.65);
\cv{cn}{(PPOL.south) (2242,350) (PPASR.187)}
\draw[ar] (kPP) -- (PPASR.221);
\draw[ar] (kPPOL) -- (PPOLX.205);
\draw[cn] (PPOLX.-55) -- (AHLM.90);
\draw[tl] (PPOLX.-55) -- (jPX);
\draw[cn] (AHLM.30) -- (AHL.210);
\draw[cn] (AHL.90) -- (PPASR.south);
\draw[ar] (kAHL) -- (AHL.-75);
\cv{ar}{(jPX) (2148,640) (2160,725) (LFDR.108)}
\draw[cn] (LFDR.-90) -- (LFD.north-|LFDR);
\cv{cn}{(LFERT.west) (2185,1080) (aLFDb)}
\cv{cn}{(LFERT.west) (2185,1100) (2182,1156) (aLFRt)}
\cv{cn}{(tLFB) (2331,1213) (2309,1293) (2211,1354) (2113,1316) (2043,1232) (LY.-5)}
\cv{cn}{(LFRT.-60) (2140,1200) (LFR.west)}
\draw[ar] (kILFb) -- (aLFRb);
% ---------- texts
\tx{354}{66}{\nm{1000}}
\tx{330}{170}{\nm{ALT\ \ 30.1}\\[1.6pt]REPRODUCT.\\LIFETIME}
\tx{510}{216}{\nm{15}}
\tx{712}{232}{\nm{30}}
\tx{875}{226}{\nm{20}}
\tx{689}{155}{\nm{LFPF}\\[1.6pt]LABOR\\FORCE\\PARTIC'N\\FRACTION \nm{80.1}}
\tx{1060}{133}{\nm{1060}}
\tx{282}{425}{\nm{1.0}}
\trx{182}{339}{-10}{FERT.CONT.\\FACILITIES\\PER CAPITA}
\trx{226}{387}{-10}{HEALTH\\SERVICES\\IMPACT\\DELAY}
\trx{435}{622}{33}{LIFETIME\\PERCEPT.\\DELAY}
\trx{555}{674}{33}{PERCEIVED\\LIFE\\EXPECTANCY}
\trx{498}{585}{-33}{LIFE EXPECT'Y}
\trx{147}{992}{18}{AVER. IND.\\OUTPUT\\PER CAPITA}
\trx{224}{970}{18}{INCOME\\EXPECT'N\\AV'G TIME}
\trx{288}{879}{18}{DELAYED\\IND.OUTP.\\PER CAP.}
\trx{420}{867}{18}{SOCIAL\\ADJUST.\\DELAY}
\trx{563}{794}{65}{EFF. HLTH.\\SERVICES\\PER CAPITA}
\trx{696}{792}{65}{HEALTH\\SERVICES\\IMPACT\\DELAY}
\trx{488}{935}{33}{SERV.OUTP.\\PER CAPITA}
\trx{298}{996}{18}{IND.OUTP.P.CAP}
\trx{69}{915}{70}{IND.OUTP.\\P.CAP}
\trx{63}{649}{90}{SERV.OUTP.\\PER CAP.}
\tx{175}{688}{\nm{DCFSN\ \ 38.2}\\[1.6pt]DESIRED\\COMPLETED\\FAMILY\\SIZE NORM.}
\tx{350}{666}{\nm{MTFN\ \ 55.1}\\[1.6pt]MAX.TOT.\\FERTILITY\\NORMAL}
\tx{798}{601}{\nm{LEN\ \ 19.1}\\[1.6pt]LIFE\\EXPECTANCY\\NORMAL}
\tx{1014}{749}{\nm{SFPC\ \ 127.1}\\[3pt]SUBST.FOOD\\PER CAPITA}
\trx{990}{711}{0}{PERS.POLL.\\INDEX}
\trx{949}{860}{10}{POPULATION}
\trx{1063}{892}{-40}{FOOD PER CAP.}
\trx{729}{985}{90}{IND.OUTP.P.CAP}
\trx{657}{1038}{-38}{POTENT.JOBS\\IN SERV.SECT.}
\trx{1194}{986}{30}{AGR.INPUTS\\PER HECTAR}
\trx{1008}{551}{90}{LIFE\\EXPECT.}
\trx{292}{1105}{0}{LABOR FORCE}
\trx{456}{1158}{21}{LABOR\\UTIL'N\\FRACT.\\DEL.TIME}
\trx{617}{1168}{21}{LABOR\\UTIL'N\\FRACT.\\DELAYED}
\trx{468}{1205}{-6}{POPULATION}
\trx{699}{1295}{0}{POPULATION}
\tx{197}{1470}{\nm{ALSC}\\[1.6pt]AVER.\\LIFETIME\\SER. CAP.\\\nm{69}}
\tx{313}{1348}{\nm{SCOR}\\[1.6pt]SERVICE\\CAP. OUT-\\PUT RATIO\\\nm{\ \ 72}}
\tx{644}{1458}{\nm{FIOAC}\\[1.6pt]FRAC. IND.\\OUTPUT\\ALLOC. CON.\\\nm{\ 57-59}}
\tx{662}{1652}{INDUSTRIAL\\OUTPUT}
\trx{725}{1525}{67}{FRAC. IND.\\OUTP. ALLOC.\\AGRICULT.}
\tx{1092}{1500}{\nm{ALIC 54}\\[1pt]AVER.\\LIFETIME\\IND. CAP.}
\tx{963}{1315}{\nm{\ ICOR}\\[1pt]IND. CAP.'\\OUTPUT\\RATIO \nm{51}}
\trx{957}{1305}{27}{FRAC.OF CAP.\\ALL.TO OBT.RES}
\trx{1164}{1267}{90}{ARABLE LAND}
\trx{1279}{1227}{90}{POPULATION}
\trx{1354}{1061}{90}{IND.OUTP.P.CAP}
\trx{1481}{1065}{90}{FOOD PER CAP.}
\tx{1586}{1222}{\nm{PALT 84.1}\\[1.6pt]POTENT'Y\\ARABLE\\LAND\\TOTAL}
\tx{1785}{1358}{\nm{PALT\ \ 84.1}\\[1.6pt]POTENT'Y\\ARABLE\\LAND TOT.}
\tx{1634}{1078}{\nm{1.0}}
\tx{1785}{1073}{\nm{SD\ \ 109.1}\\[3pt]SOCIAL\\DISCOUNT}
\tx{1855}{1487}{\nm{ALLN\ \ 112.1}\\[3pt]AVE.LIFE\\OF LAND\\NORMAL}
\tx{1464}{1520}{\nm{UILDT\ \ 119.1}\\[3pt]URB.-IND.\\LAND DEV.\\TIME}
\tx{1903}{1246}{\nm{ILF 124.1}\\[1.6pt]INHERENT\\LAND\\FERTILITY}
\tx{2151}{1278}{\nm{ILF\ \ 124.1}\\[3pt]INHERENT\\LAND\\FERTILITY}
\tx{1915}{1038}{\nm{LYF\ \ 104}\\[3pt]LAND\\YIELD\\FACTOR}
\tx{2071}{1390}{\nm{IO70\ \ 107.2}\\[3pt]IND.OUTP.\\IN 1970}
\trx{2015}{1190}{-35}{LAND FERTILITY}
\trx{1974}{1543}{65}{INDUSTRIAL\\OUTPUT}
\tx{1677}{997}{\nm{ALAI 100}\\[1.6pt]AVER.\\LIFETIME\\AGR.INPUTS}
\tx{1636}{556}{LAND\\FRACTION\\HARVESTED\\\nm{LFH\ \ 87.1}}
\tx{1640}{761}{\nm{PL\ \ 87.2}\\[1.6pt]PROCESS'G\\LOSS}
\tx{1728}{674}{\nm{SFPC\ \ 127.1}\\[3pt]SUBSIST.\\FOOD\\PER CAP.}
\trx{1724}{660}{22}{LAND YIELD}
\trx{1563}{702}{22}{ARABLE LAND}
\trx{1408}{720}{-25}{POPULATION}
\trx{1565}{851}{-25}{ARABLE\\LAND}
\tx{1578}{978}{AGRICULT.\\INPUTS}
\trx{1826}{803}{38}{FOOD\\SHORT.\\PERCEPT.\\DELAY}
\trx{1974}{838}{38}{PERCEIVED\\FOOD RATIO}
\tx{1453}{185}{\nm{\ \ NRUF 131}\\[1.6pt]NONRENEW.\\RESOURCE\\USAGE FAC.}
\tx{1655}{175}{\nm{NRI\ \ 129.2}\\[1.6pt]NONRENEWABLE\\RESOURCES,\\INITIAL}
\trx{1342}{340}{90}{IND.OUTP.P.CAP}
\trx{1330}{400}{-15}{POPULATION}
\tx{1856}{89}{\nm{IMEF\ \ 139.2}\\[3pt]IND.WATER.\\EMISSIONS\\FACTOR}
\tx{1949}{100}{\nm{IMTI\ \ 139.3}\\[3pt]IND.WATER.\\TOXICITY\\INDEX}
\tx{2024}{134}{\nm{FRPM\ \ 139.1}\\[3pt]FRACTION OF\\RESOURCES AS\\PERSISTENT\\MATERIALS}
\tx{1820}{314}{\nm{\ \ PPGF}\\[1.6pt]PERSIS.\\POLLUTION\\GEN. FACT.\\\nm{\ \ 138}}
\tx{1993}{419}{\nm{AMTI\ \ 140.2}\\[3pt]AGRIC'L\\WATER.\\TOXICITY\\INDEX}
\tx{1948}{533}{\nm{FIPM\ \ 140.1}\\[3pt]FRACTION OF\\INPUTS AS\\PERSISTENT\\MATERIALS}
\tx{2068}{477}{\nm{PPOL70\ \ 143.1}\\[3pt]PERS.POLL.\\IN 1970}
\tx{2313}{545}{\nm{AHL70\ \ 106.1}\\[3pt]ASS.HALF\\LIFE IN\\1970}
\tx{2260}{402}{\nm{1.4}}
\tx{2121}{233}{PERS.POL.\\APPEAR.\\RATE}
\tx{2054}{371}{PERS.POL.\\TRANSMISS.\\DELAY}
\trx{1824}{144}{-50}{POPULATION}
\trx{1831}{419}{-6}{AGR.INPUTS\\PER HECTARE}
\trx{1823}{474}{-6}{ARABLE LAND}
\trx{2168}{821}{-80}{PERS.POLL.\\INDEX}
\node[inner sep=0pt,anchor=west,font=\capf\itshape\fontsize{6.4}{7}\selectfont] (cap) at (1863,1666) {The entire world model is represented here by a fl};
\end{tikzpicture}
\end{document}
